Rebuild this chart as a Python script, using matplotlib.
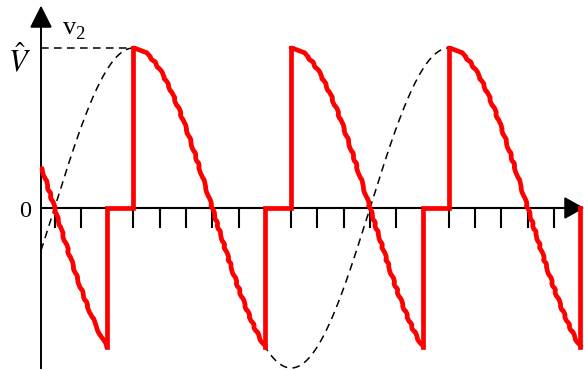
import numpy as np
import matplotlib.pyplot as plt
from matplotlib.patches import Polygon

plt.rcParams['mathtext.fontset'] = 'stix'

# angles in degrees, amplitude normalised to V-hat = 1
conduct_from = [-14.3, 90, 270, 450]
conduct_to = [60, 240, 420, 600]
conduct_sign = [-1, 1, -1, 1]
tick_angles = list(range(0, 571, 30))
axis_end = 603

W, H = 584, 370
fig = plt.figure(figsize=(W / 100, H / 100), dpi=100)
ax = fig.add_axes([0, 0, 1, 1])
ax.set_xlim(-62.2, 604.2)
ax.set_ylim(-1.0125, 1.3)
ax.axis('off')

# pixel size in data units, for the arrow heads and labels
dx = (604.2 + 62.2) / W
dy = (1.3 + 1.0125) / H
y_axis_x = -15.4

def px(x, y):
    return x * dx - 62.2, 1.3 - y * dy

# supply voltage, dashed
th = np.linspace(y_axis_x, 600, 800)
ax.plot(th, np.sin(np.radians(th)), color='black', lw=1.1, ls=(0, (5, 3.5)), zorder=2)
ax.plot([y_axis_x, 90], [1, 1], color='black', lw=1.1, ls=(0, (5, 3.5)), zorder=2)

# axes with arrow heads
ax.plot([y_axis_x, y_axis_x], [-1.0, 1.15], color='black', lw=1.4, zorder=3)
ax.add_patch(Polygon([[y_axis_x - 10 * dx, 1.131], [y_axis_x + 10 * dx, 1.131],
                      [y_axis_x, 1.256]], closed=True, color='black', zorder=3))
ax.plot([y_axis_x, axis_end - 10], [0, 0], color='black', lw=1.5, zorder=3)
ax.add_patch(Polygon([[axis_end - 18 * dx, 10 * dy], [axis_end - 18 * dx, -10 * dy],
                      [axis_end, 0]], closed=True, color='black', zorder=3))
for t in tick_angles:
    ax.plot([t, t], [0, -19 * dy], color='black', lw=1.5, zorder=3)

# output voltage, red: hand-drawn looking arcs joined by straight jumps
red = dict(color='#ff0000', lw=3.4, zorder=4)
prev_end = None
for a, b, s in zip(conduct_from, conduct_to, conduct_sign):
    seg = np.linspace(a, b, 40)
    arc, = ax.plot(seg, s * np.sin(np.radians(seg)), solid_capstyle='round', **red)
    arc.set_sketch_params(scale=0.7, length=18, randomness=4)
    if prev_end is not None:
        ax.plot([prev_end, prev_end, a, a], [prev_y, 0, 0, s * np.sin(np.radians(a))],
                solid_joinstyle='miter', solid_capstyle='projecting', **red)
    prev_end, prev_y = b, s * np.sin(np.radians(b))
ax.plot([prev_end, prev_end], [prev_y, 0], solid_capstyle='projecting', **red)

# labels
serif = ['Liberation Serif', 'DejaVu Serif']
ax.text(*px(63, 34), 'v', family=serif, fontsize=19, ha='left', va='baseline')
ax.text(*px(75, 39), '2', family=serif, fontsize=13.5, ha='left', va='baseline')
ax.text(*px(31, 72), r'$\hat{V}$', fontsize=22, ha='right', va='baseline')
ax.text(*px(31, 217), '0', family=serif, fontsize=17.5, ha='right', va='baseline')

fig.savefig('out.png', dpi=100)
